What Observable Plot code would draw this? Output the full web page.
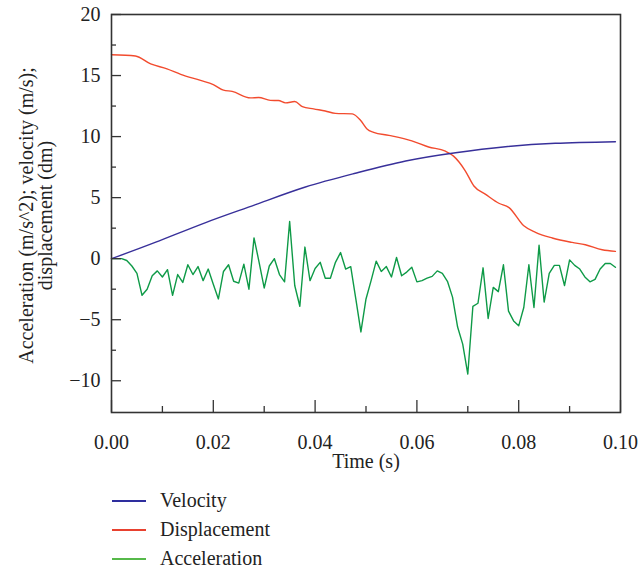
<!DOCTYPE html>
<html>
<head>
<meta charset="utf-8">
<script src="https://cdn.jsdelivr.net/npm/d3@7"></script>
<script src="https://cdn.jsdelivr.net/npm/@observablehq/plot@0.6"></script>
<style>
  html, body { margin: 0; padding: 0; background: #fff; }
  #wrap { position: relative; width: 638px; height: 574px; font-family: "Liberation Serif", "DejaVu Serif", serif; color: #222; }
  #chart svg, #chart svg text, #chart svg g { font-family: "Liberation Serif", "DejaVu Serif", serif !important; font-size: 20px; }
  #legend { position: absolute; left: 112px; top: 487px; font-size: 20px; }
  .row { position: absolute; left: 0; height: 28px; white-space: nowrap; }
  .sw { position: absolute; left: 0; width: 34px; height: 1.5px; }
  .lab { position: absolute; left: 48px; line-height: 28px; top: -14px; }
</style>
</head>
<body>
<div id="wrap"><div id="chart"></div><div id="legend"></div></div>
<script>
// ---- data ----
const seriesNames = ["Velocity", "Displacement", "Acceleration"];
const seriesColors = ["#38309a", "#f24b2e", "#0e9a47"];
const legendColors = ["#2e2e9e", "#e8412f", "#56b94a"];

const velT = [0, 0.0087, 0.0185, 0.0283, 0.0381, 0.0479, 0.0578, 0.0676, 0.0774, 0.0872, 0.099];
const velV = [0, 1.35, 2.96, 4.43, 5.87, 7.0, 8.0, 8.68, 9.17, 9.45, 9.58];

const dispT = [0, 0.0047, 0.0077, 0.0109, 0.0136, 0.0175, 0.020, 0.022, 0.0237, 0.0273,
  0.0289, 0.0312, 0.0328, 0.0342, 0.036, 0.0375, 0.0397, 0.042, 0.044, 0.0473,
  0.049, 0.0502, 0.0515, 0.0545, 0.059, 0.0623, 0.0656, 0.0672, 0.0695, 0.0712,
  0.0735, 0.0761, 0.0781, 0.081, 0.0833, 0.0866, 0.0905, 0.0931, 0.0964, 0.099];
const dispV = [16.7, 16.6, 15.95, 15.55, 15.1, 14.6, 14.26, 13.8, 13.7, 13.17,
  13.2, 12.97, 12.95, 12.76, 12.87, 12.46, 12.27, 12.1, 11.9, 11.86,
  11.3, 10.63, 10.35, 10.1, 9.65, 9.15, 8.8, 8.4, 7.2, 5.95,
  5.27, 4.54, 4.18, 2.69, 2.15, 1.69, 1.33, 1.14, 0.73, 0.6];

const accMs = [0,1,2,3,4,5,6,7,8,9,10,11,12,13,14,15,16,17,18,19,
  20,21,22,23,24,25,26,27,28,29,30,31,32,33,34,35,36,37,38,39,
  40,41,42,43,44,45,46,47,48,49,50,51,52,53,54,55,56,57,58,59,
  60,61,62,63,64,65,66,67,68,69,70,71,72,73,74,75,76,77,78,79,
  80,81,82,83,84,85,86,87,88,89,90,91,92,93,94,95,96,97,98,99];
const accV = [0, 0, 0, -0.15, -0.6, -1.2, -3.0, -2.5, -1.4, -1.0,
  -1.5, -0.9, -3.0, -1.3, -1.95, -0.5, -1.3, -0.65, -1.8, -0.85,
  -2.1, -3.3, -1.05, -0.5, -1.85, -2.0, -0.45, -2.5, 1.7, -0.3,
  -2.4, -0.6, 0.0, -1.3, -1.9, 3.05, -2.2, -3.9, 0.95, -1.8,
  -0.8, -0.3, -1.6, -1.6, -0.3, 0.5, -0.85, -0.65, -3.3, -6.0,
  -3.3, -1.8, -0.2, -1.05, -0.65, -1.5, 0.1, -1.4, -1.1, -0.7,
  -1.9, -1.8, -1.6, -1.45, -1.0, -1.2, -1.85, -3.15, -5.6, -7.0,
  -9.45, -3.9, -3.65, -0.75, -4.9, -2.35, -2.7, -0.5, -4.3, -5.1,
  -5.5, -4.0, -0.5, -4.0, 1.1, -3.55, -1.2, -0.55, -0.55, -2.2,
  -0.1, -0.55, -0.85, -1.5, -1.9, -1.7, -0.85, -0.4, -0.4, -0.7];

const xMajor = [0, 0.02, 0.04, 0.06, 0.08, 0.10];
const xMinor = [0.01, 0.03, 0.05, 0.07, 0.09];
const yMajor = [-10, -5, 0, 5, 10, 15, 20];
const yMinor = [-7.5, -2.5, 2.5, 7.5, 12.5, 17.5];
const xTitle = "Time (s)";
const yTitle1 = "Acceleration (m/s^2); velocity (m/s);";
const yTitle2 = "displacement (dm)";

// ---- tables ----
const vel = velT.map((t, i) => ({t, v: velV[i]}));
const disp = dispT.map((t, i) => ({t, v: dispV[i]}));
const acc = accMs.map((ms, i) => ({t: ms / 1000, v: accV[i]}));

const fmtY = d => d < 0 ? "\u2212" + Math.abs(d) : String(d);
const FONT = "Liberation Serif";

const chart = Plot.plot({
  width: 638,
  height: 472,
  marginTop: 14,
  marginLeft: 111,
  marginRight: 18,
  marginBottom: 60,
  style: {fontSize: "20px", color: "#222", background: "#fff"},
  x: {domain: [0, 0.1]},
  y: {domain: [-12.6, 20]},
  marks: [
    Plot.line(acc, {x: "t", y: "v", stroke: seriesColors[2], strokeWidth: 1.4}),
    Plot.line(disp, {x: "t", y: "v", stroke: seriesColors[1], strokeWidth: 1.4, curve: "monotone-x"}),
    Plot.line(vel, {x: "t", y: "v", stroke: seriesColors[0], strokeWidth: 1.4, curve: "natural"}),
    Plot.axisX(xMajor, {tickSize: -12, tickPadding: 34, tickFormat: d3.format(".2f"), label: null, stroke: "#333", strokeWidth: 1.3, fontFamily: FONT, fontSize: 20}),
    Plot.axisX(xMinor, {tickSize: -6, tickFormat: () => "", label: null, stroke: "#333", strokeWidth: 1.3}),
    Plot.axisY(yMajor, {tickSize: -10, tickPadding: 21, tickFormat: fmtY, label: null, stroke: "#333", strokeWidth: 1.3, fontFamily: FONT, fontSize: 20}),
    Plot.axisY(yMinor, {tickSize: -5, tickFormat: () => "", label: null, stroke: "#333", strokeWidth: 1.3}),
    Plot.frame({stroke: "#333", strokeWidth: 1.6}),
    Plot.text([xTitle], {frameAnchor: "bottom", dy: 49, lineAnchor: "middle", fontSize: 20, fontFamily: FONT, fill: "#222"}),
    Plot.text([yTitle1], {frameAnchor: "left", dx: -85, dy: 2, rotate: -90, lineAnchor: "middle", textAnchor: "middle", fontSize: 20, fontFamily: FONT, fill: "#222"}),
    Plot.text([yTitle2], {frameAnchor: "left", dx: -66, dy: 2, rotate: -90, lineAnchor: "middle", textAnchor: "middle", fontSize: 20, fontFamily: FONT, fill: "#222"})
  ]
});
document.getElementById("chart").appendChild(chart);

// legend
const lg = document.getElementById("legend");
const rowY = [13, 42, 71];
seriesNames.forEach((name, i) => {
  const row = document.createElement("div");
  row.className = "row";
  row.style.top = rowY[i] + "px";
  const sw = document.createElement("div");
  sw.className = "sw";
  sw.style.background = legendColors[i];
  const lab = document.createElement("div");
  lab.className = "lab";
  lab.textContent = name;
  row.appendChild(sw);
  row.appendChild(lab);
  lg.appendChild(row);
});
</script>
</body>
</html>
